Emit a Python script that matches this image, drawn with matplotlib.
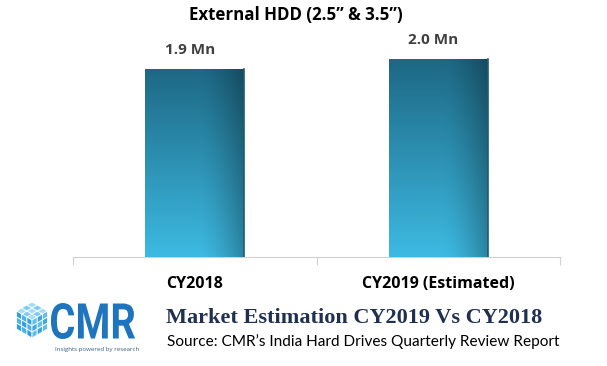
import numpy as np
import matplotlib.pyplot as plt
from matplotlib.patches import Polygon, PathPatch
from matplotlib.textpath import TextPath
from matplotlib.font_manager import FontProperties
from matplotlib.transforms import Affine2D

# Data
categories = ['CY2018', 'CY2019 (Estimated)']
values = [1.9, 2.0]
value_labels = ['1.9 Mn', '2.0 Mn']
title = 'External HDD (2.5\u201d & 3.5\u201d)'

W, H = 607, 366
fig = plt.figure(figsize=(W / 100, H / 100), dpi=100)

# main axes: baseline at y=257px, spans x 73..560
ax = fig.add_axes([73 / W, (H - 257) / H, (560 - 73) / W, (257 - 35) / H])
x = np.arange(len(categories))
ymax = (257 - 35) / 99.0

bars = ax.bar(x, values, width=0.405, color='#2a8fb3', zorder=2)

# vertical + horizontal gradient fill for the bars
ny, nx = 200, 60
yy = np.linspace(0, 1, ny)[:, None]
xx = np.linspace(0, 1, nx)[None, :]
top = np.array([0x1d, 0x68, 0x84]) / 255
bot = np.array([0x3d, 0xba, 0xe2]) / 255
base = bot + (top - bot) * yy[..., None]
shade = 1 - 0.28 * np.clip((xx - 0.55) / 0.45, 0, 1) ** 1.5
img = np.clip(base * shade[..., None], 0, 1)
for b in bars:
    x0, w, h = b.get_x(), b.get_width(), b.get_height()
    im = ax.imshow(img, extent=[x0, x0 + w, 0, h], origin='lower',
                   aspect='auto', zorder=3)
    im.set_clip_path(b)
    ax.plot([x0 + w, x0 + w], [0, h], color='#1a5d76', lw=1.2, zorder=4)
ax.set_xlim(-0.5, 1.5)
ax.set_ylim(0, ymax)

for xi, v, lab in zip(x, values, value_labels):
    ax.text(xi - 0.02, v + 0.12, lab, ha='center', va='bottom', fontsize=11,
            fontweight='bold', color='#404040', family='Open Sans')

for s in ['top', 'right', 'left']:
    ax.spines[s].set_visible(False)
ax.spines['bottom'].set_color('#d0d0d0')
ax.set_yticks([])
ax.set_xticks([-0.5, 0.5, 1.5])
ax.set_xticklabels([])
ax.tick_params(axis='x', length=6, color='#d0d0d0')
for xi, c in zip(x, categories):
    ax.text(xi, -0.27, c, ha='center', va='center', fontsize=11.5,
            fontweight='bold', color='black', family='Open Sans')

fig.text(296 / W, 1 - 15 / H, title, ha='center', va='center', fontsize=12.2,
         fontweight='bold', color='black', family='Open Sans')

# footer with logo
lax = fig.add_axes([0, 0, 1, 1], facecolor='none')
lax.set_xlim(0, W)
lax.set_ylim(H, 0)
lax.axis('off')

# cube made of small rhombi
cx, cy, r = 32, 320, 18
c30 = np.cos(np.pi / 6)
ur = np.array([r * c30, -r / 2]) / 3
ul = np.array([-r * c30, -r / 2]) / 3
dn = np.array([0, r]) / 3
center = np.array([cx, cy])
faces = [(ur, ul, ['#a6dcf6', '#7fcbf1']),
         (ul, dn, ['#2f9fe0', '#4cb2ea']),
         (ur, dn, ['#5ec0ef', '#3ea6e2'])]
for a, b, cols in faces:
    for i in range(3):
        for j in range(3):
            p0 = center + i * a + j * b
            pts = [p0, p0 + a, p0 + a + b, p0 + b]
            lax.add_patch(Polygon(pts, closed=True, fc=cols[(i + j) % 2],
                                  ec='white', lw=0.6))

# "CMR" squeezed to fit its box (x 51..135, y 303..339)
tp = TextPath((0, 0), 'CMR', size=50,
              prop=FontProperties(family='Roboto', weight='bold'))
ext = tp.get_extents()
sx = (135 - 51) / ext.width
sy = (339 - 303) / ext.height
tr = (Affine2D().translate(-ext.x0, -ext.y0).scale(sx, -sy)
      .translate(51, 339))
lax.add_patch(PathPatch(tr.transform_path(tp), fc='#1f75bd', ec='none'))

lax.text(55, 349, 'Insights powered by research', ha='left', va='center',
         fontsize=4.4, color='#3a5f8a', family='Open Sans')
lax.text(166, 318, 'Market Estimation CY2019 Vs CY2018', ha='left',
         va='center', fontsize=16, fontweight='bold', color='#1f3050',
         family='Liberation Serif')
lax.text(167, 342, 'Source: CMR\u2019s India Hard Drives Quarterly Review Report',
         ha='left', va='center', fontsize=11.05, color='black', family='Lato')

fig.savefig('out.png', dpi=100)
